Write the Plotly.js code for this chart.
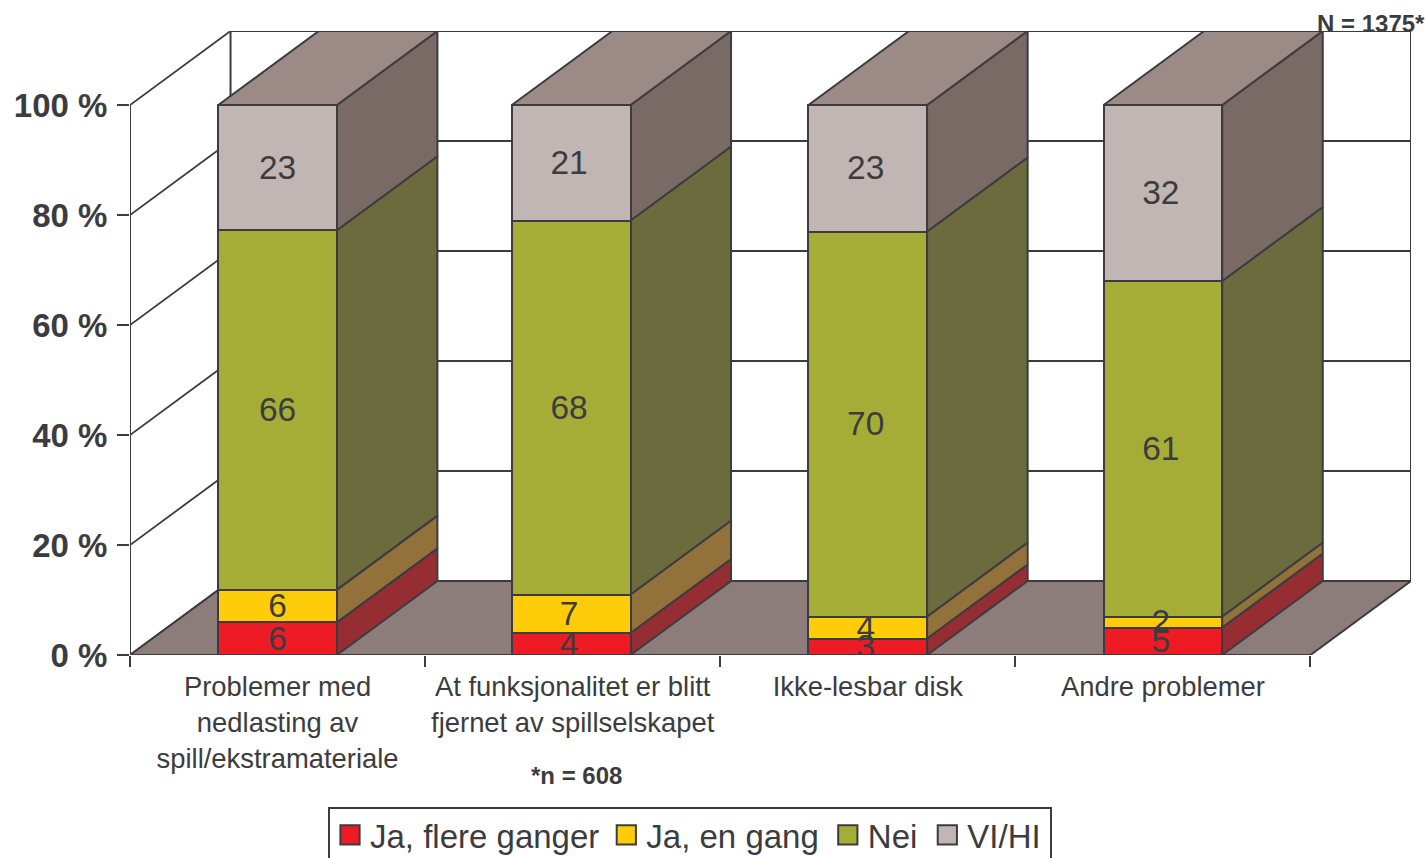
<!DOCTYPE html>
<html><head><meta charset="utf-8">
<script src="https://cdn.plot.ly/plotly-3.0.1.min.js"></script>
<style>html,body{margin:0;padding:0;background:#fff;overflow:hidden}#c{width:1425px;height:858px}</style>
</head><body><div id="c"></div>
<script>
const categories = ["Problemer med<br>nedlasting av<br>spill/ekstramateriale","At funksjonalitet er blitt<br>fjernet av spillselskapet","Ikke-lesbar disk","Andre problemer"];
const jaFlere = [6,4,3,5];
const jaEn = [6,7,4,2];
const nei = [66,68,70,61];
const viHi = [23,21,23,32];
const seriesNames = ["Ja, flere ganger","Ja, en gang","Nei","VI/HI"];
const frontColors = ["#ed1c24","#ffcc09","#a6ad37","#c1b6b3"];
const sideColors = ["#952d33","#93713a","#6b6b3e","#796a66"];
const topColor = "#9b8a86", floorColor = "#8c7d7a", ink = "#3c3c40";
const yTicks = [0,20,40,60,80,100];

const series = [jaFlere,jaEn,nei,viHi];
const xPos = categories.map((_,i)=>i);
const barX = [0,0.995,2,3];               // the second column sits a hair left in the reference
const barW = 0.402;
const dX = 100.5/295, dY = 74/5.5;        // 3-D depth in axis units
const xL = -0.5, xR = 3.5;
const LW = 2;
const traces = [];
const poly = (arrs)=>{const x=[],y=[];arrs.forEach(p=>{p.forEach(q=>{x.push(q[0]);y.push(q[1]);});x.push(p[0][0],null);y.push(p[0][1],null);});return {x,y};};
const face = (arrs,fill,z,w)=>{const p=poly(arrs);return {type:'scatter',mode:'lines',x:p.x,y:p.y,fill:'toself',fillcolor:fill,line:{color:ink,width:w||LW},showlegend:false,hoverinfo:'skip',cliponaxis:false,zorder:z};};
const lines = (arrs,z,w)=>{const x=[],y=[];arrs.forEach(p=>{p.forEach(q=>{x.push(q[0]);y.push(q[1]);});x.push(null);y.push(null);});return {type:'scatter',mode:'lines',x,y,line:{color:ink,width:w||LW},showlegend:false,hoverinfo:'skip',cliponaxis:false,zorder:z};};

// walls & gridlines
traces.push(lines(yTicks.map(v=>[[xL+dX,v+dY],[xR+dX,v+dY]]),0,1.8));
traces.push(lines(yTicks.map(v=>[[xL,v],[xL+dX,v+dY]]),0,1.8));
traces.push(lines([[[xL,0],[xL,100]],[[xL+dX,dY],[xL+dX,100+dY]],[[xR+dX,dY],[xR+dX,100+dY]]],0));
// floor
traces.push(face([[[xL,0],[xL+dX,dY],[xR+dX,dY],[xR,0]]],floorColor,0));

// side and top faces from normalised stacks
const totals = xPos.map(i=>series.reduce((s,a)=>s+a[i],0));
const lowOf = (k,i)=>series.slice(0,k).reduce((s,a)=>s+a[i],0)/totals[i]*100;
series.forEach((arr,k)=>{
  const quads = xPos.map(i=>{
    const lo = lowOf(k,i), hi = lo + arr[i]/totals[i]*100;
    const r = barX[i]+barW/2;
    return [[r,lo],[r+dX,lo+dY],[r+dX,hi+dY],[r,hi]];
  });
  traces.push(face(quads,sideColors[k],1));
});
traces.push(face(xPos.map(i=>[[barX[i]-barW/2,100],[barX[i]-barW/2+dX,100+dY],[barX[i]+barW/2+dX,100+dY],[barX[i]+barW/2,100]]),topColor,1));

// front faces
series.forEach((arr,k)=>traces.push({type:'bar',name:seriesNames[k],x:barX,y:arr,width:barW,
  marker:{color:frontColors[k],line:{color:ink,width:LW}},cliponaxis:false,hoverinfo:'skip',zorder:2}));

// value labels on top of everything
const labelNudgeX = [0,-0.007,-0.007,-0.007], labelNudgeY = -0.5;
series.forEach((arr,k)=>traces.push({type:'scatter',mode:'text',showlegend:false,hoverinfo:'skip',cliponaxis:false,zorder:3,
  x:barX.map((v,i)=>v+labelNudgeX[i]),y:xPos.map(i=>lowOf(k,i)+arr[i]/totals[i]*50+labelNudgeY),text:arr.map(String),textposition:'middle center',
  textfont:{family:'Liberation Sans',size:33.5,color:ink}}));

const layout = {
  width:1425,height:858,paper_bgcolor:'#fff',plot_bgcolor:'rgba(0,0,0,0)',
  margin:{l:130,r:14,t:31,b:203,autoexpand:false},
  barmode:'stack',barnorm:'percent',
  font:{family:'Liberation Sans',color:ink},
  xaxis:{range:[xL,xR+dX],tickmode:'array',tickvals:xPos,ticktext:categories,ticks:'',showgrid:false,zeroline:false,showline:false,
    tickfont:{size:27.4,color:ink},ticklabelstandoff:13,automargin:false,
    minor:{ticks:'outside',tickmode:'array',tickvals:[-0.5,0.5,1.5,2.5,3.5],ticklen:11,tickwidth:2,tickcolor:ink,showgrid:false}},
  yaxis:{range:[0,100+dY],tickmode:'array',tickvals:yTicks,ticktext:yTicks.map(v=>v+' %'),ticks:'outside',ticklen:12,tickwidth:2,tickcolor:ink,
    showgrid:false,zeroline:false,showline:false,tickfont:{size:33,color:ink,weight:700},ticklabelstandoff:3,automargin:false},
  legend:{orientation:'h',x:(328-130)/1281,xanchor:'left',y:-(807-655)/624,yanchor:'top',traceorder:'normal',bgcolor:'#fff',bordercolor:ink,borderwidth:2,
    font:{size:33,color:ink},itemwidth:30,itemclick:false,itemdoubleclick:false},
  annotations:[
    {xref:'paper',yref:'paper',x:(1427-130)/1281,y:(624-(23-31))/624,xanchor:'right',yanchor:'middle',text:'<b>N = 1375*</b>',showarrow:false,font:{size:24,color:ink}},
    {xref:'paper',yref:'paper',x:(576-130)/1281,y:-(775-655)/624,xanchor:'center',yanchor:'middle',text:'<b>*n = 608</b>',showarrow:false,font:{size:24,color:ink}}
  ]
};
Plotly.newPlot('c',traces,layout,{staticPlot:true,displayModeBar:false}).then(()=>{
  // Reference legend has bigger swatches and slightly wider entry gaps.
  const leg=document.querySelector('.legend');
  if(!leg) return;
  leg.querySelectorAll('.legendpoints path').forEach(p=>{
    const t=p.getAttribute('transform')||'';
    if(!/scale/.test(t)) p.setAttribute('transform',t+' scale(1.6)');
    p.setAttribute('vector-effect','non-scaling-stroke');
  });
  const extra=[0,2,6,11];
  leg.querySelectorAll('.traces').forEach((g,i)=>{
    const m=/translate\(([-\d.]+),\s*([-\d.]+)\)/.exec(g.getAttribute('transform')||'');
    if(m) g.setAttribute('transform','translate('+(+m[1]+extra[i])+','+(+m[2]-2)+')');
  });
  const bg=leg.querySelector('.bg'); if(bg) bg.setAttribute('width',722);
  const sb=leg.querySelector('.scrollbox'); if(sb) sb.removeAttribute('clip-path');
});
</script></body></html>
